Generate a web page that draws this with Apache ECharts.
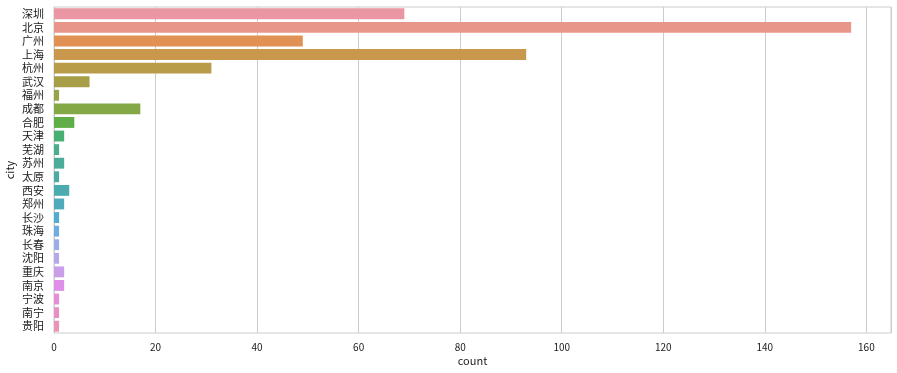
<!DOCTYPE html>
<html>
<head>
<meta charset="utf-8">
<script src="https://cdn.jsdelivr.net/npm/echarts@6/dist/echarts.min.js"></script>
<style>html,body{margin:0;padding:0;background:#fff;}#c{width:897px;height:373px;}</style>
</head>
<body>
<div id="c"></div>
<script>
const cities = ['深圳','北京','广州','上海','杭州','武汉','福州','成都','合肥','天津','芜湖','苏州','太原','西安','郑州','长沙','珠海','长春','沈阳','重庆','南京','宁波','南宁','贵阳'];
const counts = [69,157,49,93,31,7,1,17,4,2,1,2,1,3,2,1,1,1,1,2,2,1,1,1];
const xTicks = [0,20,40,60,80,100,120,140,160];

// seaborn husl palette + desaturation (styling only)
const M=[[3.2406,-1.5372,-0.4986],[-0.9689,1.8758,0.0415],[0.0557,-0.2040,1.0570]];
const refU=0.19784,refV=0.46834,kappa=903.2962962962963,eps=0.0088564516790356;
function maxChroma(L,H){const h=H/360*2*Math.PI,sH=Math.sin(h),cH=Math.cos(h);
 const s1=Math.pow(L+16,3)/1560896;const s2=s1>eps?s1:L/kappa;let r=Infinity;
 for(const [m1,m2,m3] of M){const top=(0.99915*m1+1.05122*m2+1.14460*m3)*s2;
  const rb=0.86330*m3-0.17266*m2, lb=0.12949*m3-0.38848*m1;const bottom=(rb*sH+lb*cH)*s2;
  for(const t of [0,1]){const C=L*(top-1.05122*t)/(bottom+0.17266*sH*t);if(C>0&&C<r)r=C;}}
 return r;}
function huslToRgb(H,S,L){const C=maxChroma(L,H)/100*S;const h=H/360*2*Math.PI;
 const U=Math.cos(h)*C,V=Math.sin(h)*C;const t=(L+16)/116;const t3=t*t*t;
 const vY=t3>eps?t3:(116*t-16)/kappa;const vU=U/(13*L)+refU,vV=V/(13*L)+refV;
 const Y=vY;const X=-(9*Y*vU)/((vU-4)*vV-vU*vV);const Z=(9*Y-15*vV*Y-vV*X)/(3*vV);
 return M.map(r=>{let c=r[0]*X+r[1]*Y+r[2]*Z;c=c<=0.0031308?12.92*c:1.055*Math.pow(c,1/2.4)-0.055;return Math.min(1,Math.max(0,c));});}
function desat([r,g,b],p){const mx=Math.max(r,g,b),mn=Math.min(r,g,b);const l=(mx+mn)/2;
 if(mx===mn)return [r,g,b];const d=mx-mn;let s=l<=0.5?d/(mx+mn):d/(2-mx-mn);let h;
 if(r===mx)h=(g-b)/d;else if(g===mx)h=2+(b-r)/d;else h=4+(r-g)/d;h=((h/6)%1+1)%1;s*=p;
 const m2=l<=0.5?l*(1+s):l+s-l*s,m1=2*l-m2;
 const v=(hh)=>{hh=((hh%1)+1)%1;if(hh<1/6)return m1+(m2-m1)*hh*6;if(hh<0.5)return m2;if(hh<2/3)return m1+(m2-m1)*(2/3-hh)*6;return m1;};
 return [v(h+1/3),v(h),v(h-1/3)];}
const n=cities.length;
const colors=cities.map((_,i)=>{let hu=(i/n+0.01)%1*359;const c=desat(huslToRgb(hu,0.9*99,0.7*99),0.75);
 return 'rgb('+c.map(x=>Math.round(x*255)).join(',')+')';});

const chart=echarts.init(document.getElementById('c'),null,{renderer:'canvas'});
const font='"Noto Sans CJK SC", sans-serif';
chart.setOption({
 animation:false,
 grid:{left:54,right:6,top:7,bottom:40,show:true,borderColor:'#cccccc',borderWidth:1,containLabel:false,outerBoundsMode:'none'},
 xAxis:{type:'value',min:0,max:164.85,interval:20,
  name:'count',nameLocation:'middle',nameGap:22,nameMoveOverlap:false,nameTextStyle:{color:'#1a1a1a',fontSize:11,fontFamily:font},
  axisLine:{show:false},axisTick:{show:false},
  axisLabel:{color:'#1a1a1a',fontSize:10,fontFamily:font,margin:9,showMaxLabel:false,
   formatter:v=>xTicks.includes(v)?String(v):''},
  splitLine:{show:true,lineStyle:{color:'#cccccc',width:1}}},
 yAxis:{type:'category',data:cities,inverse:true,
  name:'city',nameLocation:'middle',nameGap:39,nameRotate:90,nameMoveOverlap:false,nameTextStyle:{color:'#1a1a1a',fontSize:11,fontFamily:font},
  axisLine:{show:true,lineStyle:{color:'#cccccc'}},axisTick:{show:false},
  axisLabel:{color:'#1a1a1a',fontSize:11,fontFamily:font,margin:10,interval:0},
  splitLine:{show:false}},
 series:[{type:'bar',barCategoryGap:'20%',
  data:counts.map((v,i)=>({value:v,itemStyle:{color:colors[i]}}))}]
});
</script>
</body>
</html>
